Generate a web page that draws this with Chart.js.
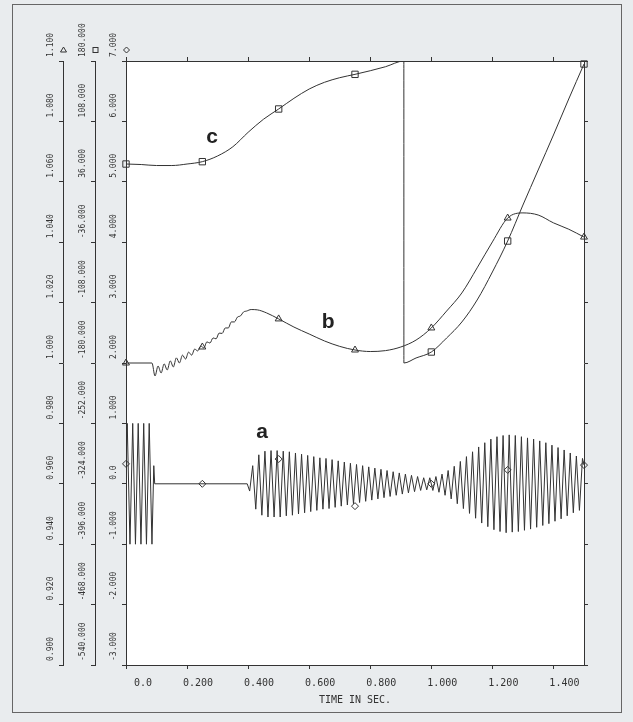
<!DOCTYPE html>
<html>
<head>
<meta charset="utf-8">
<script src="https://cdn.jsdelivr.net/npm/chart.js@4.4.1/dist/chart.umd.min.js"></script>
<style>
  html, body { margin: 0; padding: 0; background: #e9ecee; }
  #wrap { position: relative; width: 633px; height: 722px; }
</style>
</head>
<body>
<div id="wrap"><canvas id="plot" width="633" height="722"></canvas></div>
<script>
// axis ticks
const timeTicks = [0, 0.2, 0.4, 0.6, 0.8, 1.0, 1.2, 1.4];
const diamondTicks = [-3, -2, -1, 0, 1, 2, 3, 4, 5, 6, 7];
const squareTicks = [-540, -468, -396, -324, -252, -180, -108, -36, 36, 108, 180];
const triangleTicks = [0.90, 0.92, 0.94, 0.96, 0.98, 1.00, 1.02, 1.04, 1.06, 1.08, 1.10];

// marker positions on the three curves
const markerTimes = [0, 0.25, 0.5, 0.75, 1.0, 1.25, 1.5];
const aMarks = [0.33, 0.0, 0.41, -0.37, 0.0, 0.23, 0.31];
const bMarks = [1.0, 1.0053, 1.0146, 1.0043, 1.0116, 1.0480, 1.0417];
const cMarks = [57.2, 60.0, 122.8, 164.1, -166.9, -34.6, 176.4];

// curve a : first burst + flat part
const aStartT = [0, 0.004, 0.013, 0.022, 0.031, 0.040, 0.049, 0.058, 0.067, 0.076, 0.085, 0.091, 0.094, 0.397];
const aStartV = [0.33, 1.0, -1.0, 1.0, -1.0, 1.0, -1.0, 1.0, -1.0, 1.0, -1.0, 0.3, 0.0, 0.0];
// curve a : second oscillation, one extreme every half period
const aOscStart = 0.405;
const aOscStep = 0.01;
const aOscPeaks = [
  -0.12, 0.30, -0.42, 0.48, -0.52, 0.54, -0.55, 0.55, -0.55, 0.55,
  -0.55, 0.54, -0.53, 0.53, -0.52, 0.51, -0.50, 0.49, -0.48, 0.47,
  -0.46, 0.45, -0.44, 0.43, -0.42, 0.42, -0.41, 0.40, -0.39, 0.38,
  -0.37, 0.36, -0.35, 0.34, -0.33, 0.32, -0.31, 0.30, -0.29, 0.28,
  -0.27, 0.26, -0.25, 0.24, -0.23, 0.22, -0.21, 0.20, -0.19, 0.18,
  -0.17, 0.16, -0.15, 0.14, -0.13, 0.12, -0.11, 0.10, -0.10, 0.10,
  -0.11, 0.12, -0.14, 0.16, -0.19, 0.22, -0.25, 0.29, -0.33, 0.37,
  -0.41, 0.45, -0.49, 0.53, -0.57, 0.61, -0.65, 0.68, -0.71, 0.74,
  -0.76, 0.78, -0.79, 0.80, -0.81, 0.81, -0.80, 0.80, -0.79, 0.78,
  -0.77, 0.76, -0.75, 0.74, -0.72, 0.71, -0.69, 0.68, -0.66, 0.64,
  -0.62, 0.60, -0.58, 0.56, -0.53, 0.51, -0.48, 0.46, -0.44, 0.42
];
const aEndT = 1.5, aEndV = 0.31;

// curve b (triangle scale)
const bT = [0, 0.085, 0.095, 0.105, 0.115, 0.125, 0.135, 0.145, 0.155, 0.165, 0.175, 0.185, 0.195, 0.205, 0.215,
  0.225, 0.235, 0.245, 0.255, 0.265, 0.275, 0.285, 0.295, 0.305, 0.315, 0.325, 0.335, 0.345, 0.355, 0.365, 0.375,
  0.385, 0.395, 0.41, 0.43, 0.46, 0.5, 0.55, 0.6, 0.65, 0.7, 0.75, 0.8, 0.85, 0.9, 0.95, 1.0, 1.05, 1.1, 1.15,
  1.2, 1.25, 1.3, 1.35, 1.4, 1.45, 1.5];
const bV = [1.0000, 1.0000, 0.9957, 0.9990, 0.9967, 0.9997, 0.9977, 1.0007, 0.9987, 1.0017, 1.0000, 1.0026, 1.0013,
  1.0036, 1.0026, 1.0046, 1.0040, 1.0056, 1.0050, 1.0070, 1.0066, 1.0083, 1.0080, 1.0099, 1.0098, 1.0116, 1.0116,
  1.0136, 1.0136, 1.0152, 1.0156, 1.0169, 1.0172, 1.0177, 1.0176, 1.0166, 1.0146, 1.0119, 1.0096, 1.0073, 1.0055,
  1.0043, 1.0038, 1.0041, 1.0053, 1.0076, 1.0116, 1.0172, 1.0232, 1.0315, 1.0401, 1.0480, 1.0497, 1.0490, 1.0464,
  1.0443, 1.0417];

// curve c (square scale, degrees, wraps at 180)
const cT = [0, 0.05, 0.1, 0.15, 0.2, 0.25, 0.3, 0.35, 0.4, 0.45, 0.5, 0.55, 0.6, 0.65, 0.7, 0.75, 0.8, 0.85, 0.91,
  0.9101, 0.95, 1.0, 1.05, 1.1, 1.15, 1.2, 1.25, 1.3, 1.35, 1.4, 1.45, 1.5];
const cV = [57.2, 56.6, 55.4, 55.4, 57.2, 60.0, 66.8, 77.8, 95.0, 110.5, 122.8, 135.5, 146.6, 154.6, 160.1, 164.1,
  168.4, 173.2, 180, -180, -174, -166.9, -150.2, -131.1, -104.9, -71.5, -34.6, 8.3, 50.1, 91.8, 134.7, 176.4];

// curve names
const nameText = ['a', 'b', 'c'];
const nameT = [0.446, 0.662, 0.282];
const nameV = [0.86, 1.0136, 89.4];
const nameAxis = ['yD', 'yT', 'yS'];

const ink = '#333';
const mono = 'DejaVu Sans Mono';

let aLine = aStartT.map((t, i) => ({x: t, y: aStartV[i]}));
aOscPeaks.forEach((v, k) => aLine.push({x: aOscStart + k * aOscStep, y: v}));
aLine.push({x: aEndT, y: aEndV});
const bLine = bT.map((t, i) => ({x: t, y: bV[i]}));
const cLine = cT.map((t, i) => ({x: t, y: cV[i]}));

function fmt3(v) { return v === 0 ? '0.0' : v.toFixed(3); }

function leftAxis(tickArr, weight, width) {
  return {
    type: 'linear', position: 'left', weight: weight,
    min: tickArr[0], max: tickArr[tickArr.length - 1],
    afterBuildTicks: s => { s.ticks = tickArr.map(v => ({value: v})); },
    afterFit: s => { s.width = width; },
    grid: {drawOnChartArea: false, color: ink, tickLength: 4},
    border: {color: ink},
    ticks: {autoSkip: false, minRotation: 90, maxRotation: 90, padding: 0, color: ink,
      font: {family: mono, size: 8}, callback: v => fmt3(v)}
  };
}

// rotated y labels start just above their tick
const yLabelPlugin = {
  id: 'yLabels',
  beforeDraw(chart) {
    ['yT', 'yS', 'yD'].forEach(id => {
      const s = chart.scales[id];
      s.getLabelItems().forEach((it, i) => {
        const o = it.options || it;
        o.textAlign = 'left';
        o.translation = [s.right - 12, s.getPixelForTick(i) - 4];
      });
    });
  }
};

const paperPlugin = {
  id: 'paper',
  beforeDraw(chart) {
    const {ctx, chartArea: a} = chart;
    ctx.save();
    ctx.fillStyle = '#e9ecee';
    ctx.fillRect(0, 0, chart.width, chart.height);
    ctx.fillStyle = '#ffffff';
    ctx.fillRect(a.left, a.top, a.right - a.left, a.bottom - a.top);
    ctx.strokeStyle = '#666';
    ctx.lineWidth = 1;
    ctx.strokeRect(12.5, 4.5, 609, 708);
    ctx.restore();
  },
  afterDraw(chart) {
    const {ctx, chartArea: a} = chart;
    ctx.save();
    ctx.strokeStyle = ink;
    ctx.lineWidth = 1;
    // scale symbols above the axes
    const top = a.top - 11;
    let x = chart.scales.yT.right + 0.5;
    ctx.beginPath(); ctx.moveTo(x, top - 3); ctx.lineTo(x + 3, top + 2); ctx.lineTo(x - 3, top + 2); ctx.closePath(); ctx.stroke();
    x = chart.scales.yS.right + 0.5;
    ctx.strokeRect(x - 2.5, top - 2.5, 5, 5);
    x = chart.scales.yD.right + 0.5;
    ctx.beginPath(); ctx.moveTo(x, top - 3); ctx.lineTo(x + 3, top); ctx.lineTo(x, top + 3); ctx.lineTo(x - 3, top); ctx.closePath(); ctx.stroke();
    // curve names
    ctx.fillStyle = '#222';
    ctx.font = 'bold 21px "Liberation Sans"';
    ctx.textAlign = 'center';
    ctx.textBaseline = 'middle';
    nameText.forEach((n, i) => {
      ctx.fillText(n, chart.scales.x.getPixelForValue(nameT[i]), chart.scales[nameAxis[i]].getPixelForValue(nameV[i]));
    });
    ctx.restore();
  }
};

function marks(vals, axis, style, r) {
  return {
    data: markerTimes.map((t, i) => ({x: t, y: vals[i]})), yAxisID: axis, showLine: false, clip: false,
    pointStyle: style, pointRadius: r, pointBorderColor: ink, pointBackgroundColor: 'rgba(255,255,255,0)',
    pointBorderWidth: 1
  };
}

new Chart(document.getElementById('plot'), {
  type: 'line',
  data: {
    datasets: [
      {data: aLine, yAxisID: 'yD', borderColor: ink, borderWidth: 1, pointRadius: 0, tension: 0},
      {data: bLine, yAxisID: 'yT', borderColor: ink, borderWidth: 1, pointRadius: 0, cubicInterpolationMode: 'monotone'},
      {data: cLine, yAxisID: 'yS', borderColor: ink, borderWidth: 1, pointRadius: 0, cubicInterpolationMode: 'monotone'},
      marks(aMarks, 'yD', 'rectRot', 3.5),
      marks(bMarks, 'yT', 'triangle', 4),
      marks(cMarks, 'yS', 'rect', 4.5)
    ]
  },
  options: {
    responsive: false,
    animation: false,
    devicePixelRatio: 1,
    layout: {padding: {left: 31, right: 49, top: 61, bottom: 7}},
    plugins: {legend: {display: false}, tooltip: {enabled: false}},
    scales: {
      x: {
        type: 'linear', position: 'bottom', min: 0, max: 1.5,
        afterBuildTicks: s => { s.ticks = timeTicks.map(v => ({value: v})); },
        afterFit: s => { s.height = 50; },
        grid: {drawOnChartArea: false, color: ink, tickLength: 4},
        border: {color: ink},
        ticks: {autoSkip: false, maxRotation: 0, align: 'end', labelOffset: 26, padding: 8, color: ink,
          font: {family: mono, size: 10}, callback: v => fmt3(v)},
        title: {display: true, text: 'TIME IN SEC.', color: ink, font: {family: mono, size: 10},
          padding: {top: 0, bottom: 9}}
      },
      x2: {
        type: 'linear', position: 'top', min: 0, max: 1.5,
        afterBuildTicks: s => { s.ticks = timeTicks.map(v => ({value: v})); },
        afterFit: s => { s.height = 0; },
        grid: {drawOnChartArea: false, color: ink, tickLength: 4},
        border: {color: ink},
        ticks: {display: false}
      },
      yT: leftAxis(triangleTicks, 3, 32),
      yS: leftAxis(squareTicks, 2, 32),
      yD: leftAxis(diamondTicks, 1, 31),
      yR: {
        type: 'linear', position: 'right', min: -3, max: 7,
        afterBuildTicks: s => { s.ticks = diamondTicks.map(v => ({value: v})); },
        afterFit: s => { s.width = 0; },
        grid: {drawOnChartArea: false, color: ink, tickLength: 4},
        border: {color: ink},
        ticks: {display: false}
      }
    }
  },
  plugins: [paperPlugin, yLabelPlugin]
});
</script>
</body>
</html>
